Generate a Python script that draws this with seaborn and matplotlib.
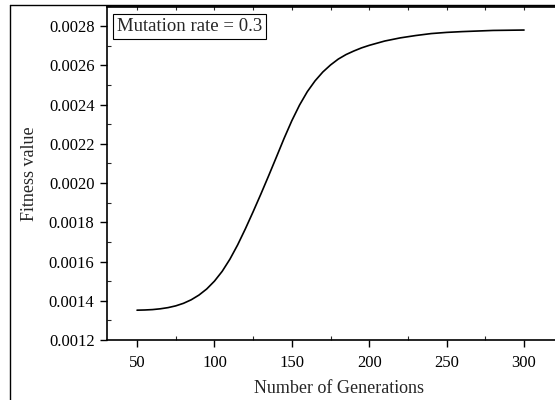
import numpy as np
import pandas as pd
import matplotlib
matplotlib.use("Agg")
import matplotlib.pyplot as plt
from matplotlib.ticker import MultipleLocator, FormatStrFormatter
from matplotlib.lines import Line2D
import seaborn as sns

# values
generations = [50, 55, 60, 65, 70, 75, 80, 85, 90, 95, 100, 105, 110, 115,
               120, 125, 130, 135, 140, 145, 150, 155, 160, 165, 170, 175,
               180, 185, 190, 195, 200, 210, 220, 230, 240, 250, 260, 270,
               280, 290, 300]
fitness = [0.001352, 0.001353, 0.001355, 0.001359, 0.001365, 0.001374,
           0.001387, 0.001405, 0.001429, 0.001460, 0.001500, 0.001550,
           0.001612, 0.001685, 0.001767, 0.001854, 0.001944, 0.002037,
           0.002132, 0.002228, 0.002318, 0.002398, 0.002466, 0.002521,
           0.002566, 0.002602, 0.002632, 0.002655, 0.002673, 0.002689,
           0.002702, 0.002724, 0.002740, 0.002752, 0.002762, 0.002768,
           0.002772, 0.002775, 0.002778, 0.002779, 0.002780]

data = pd.DataFrame({"Generations": generations, "Fitness": fitness})

sns.set_style("ticks")
plt.rcParams["font.family"] = ["Liberation Serif", "DejaVu Serif"]

fig = plt.figure(figsize=(5.55, 4.0), dpi=100)
ax = fig.add_axes([107 / 555, 60 / 400, (570.5 - 107) / 555, (393.5 - 60) / 400])

sns.lineplot(data, x="Generations", y="Fitness", color="black", linewidth=1.2, ax=ax)

ax.set_xlim(30.6, 330)
ax.set_ylim(0.0012, 0.0029)
ax.set_xticks([50, 100, 150, 200, 250, 300])
ax.xaxis.set_minor_locator(MultipleLocator(25))
ax.yaxis.set_major_locator(MultipleLocator(0.0002))
ax.yaxis.set_minor_locator(MultipleLocator(0.0001))
ax.yaxis.set_major_formatter(FormatStrFormatter("%.4f"))

ax.tick_params(which="major", direction="out", length=5, width=1, labelsize=12,
               colors="black", pad=4)
ax.tick_params(axis="x", which="major", pad=6)
ax.tick_params(which="minor", direction="in", length=3, width=0.8)

# top axis with small inward ticks, no labels
top = ax.secondary_xaxis("top")
top.set_xticks([50, 100, 150, 200, 250, 300])
top.xaxis.set_minor_locator(MultipleLocator(25))
top.tick_params(which="both", direction="in", length=3, width=0.8, labeltop=False)
top.spines["top"].set_linewidth(1.2)

for side in ["left", "bottom", "top"]:
    ax.spines[side].set_linewidth(1.2)
    ax.spines[side].set_color("black")
ax.spines["right"].set_visible(False)

ax.set_xlabel("Number of Generations", fontsize=13, labelpad=6)
ax.set_ylabel("Fitness value", fontsize=13, labelpad=8)

ax.text(0.022, 0.965, "Mutation rate = 0.3", transform=ax.transAxes, fontsize=13.5,
        va="top", ha="left",
        bbox=dict(boxstyle="square,pad=0.2", facecolor="white", edgecolor="black", linewidth=0.8))

# outer frame around the figure
fig.add_artist(Line2D([9.5 / 555, 9.5 / 555], [0, 395.5 / 400], color="black", linewidth=1.0,
                      transform=fig.transFigure))
fig.add_artist(Line2D([9.5 / 555, 1], [395.5 / 400, 395.5 / 400], color="black", linewidth=1.0,
                      transform=fig.transFigure))

fig.savefig("out.png", dpi=100)
